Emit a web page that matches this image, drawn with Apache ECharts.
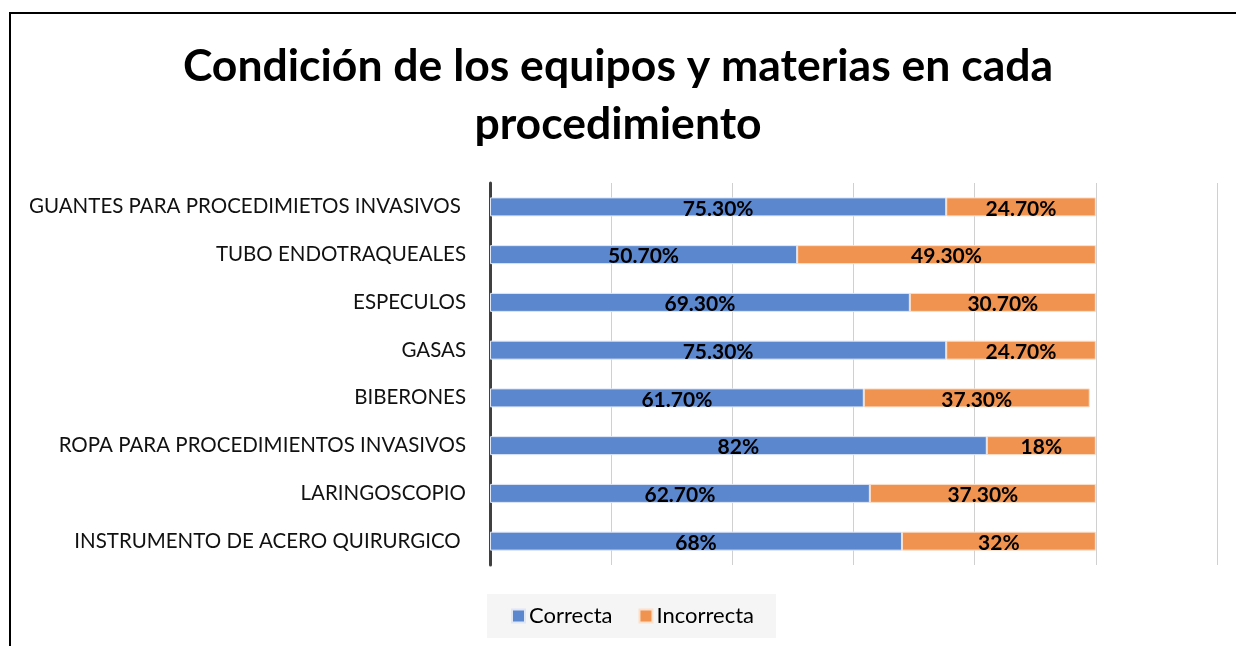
<!DOCTYPE html>
<html>
<head>
<meta charset="utf-8">
<script src="https://cdn.jsdelivr.net/npm/echarts@6/dist/echarts.min.js"></script>
<style>html,body{margin:0;padding:0;background:#fff;}#c{width:1236px;height:646px;}</style>
</head>
<body>
<div id="c"></div>
<script>
const categories = [
  'GUANTES PARA PROCEDIMIETOS INVASIVOS ',
  'TUBO ENDOTRAQUEALES',
  'ESPECULOS',
  'GASAS',
  'BIBERONES',
  'ROPA PARA PROCEDIMIENTOS INVASIVOS',
  'LARINGOSCOPIO',
  'INSTRUMENTO DE ACERO QUIRURGICO '
];
const correcta = [75.3, 50.7, 69.3, 75.3, 61.7, 82, 62.7, 68];
const incorrecta = [24.7, 49.3, 30.7, 24.7, 37.3, 18, 37.3, 32];
const seriesNames = ['Correcta', 'Incorrecta'];
const titleText = 'Condición de los equipos y materias en cada\nprocedimiento';

const fmt = p => (Number.isInteger(p.value) ? p.value : p.value.toFixed(2)) + '%';
const FONT = 'Lato';

const chart = echarts.init(document.getElementById('c'), null, {renderer: 'canvas'});
const labelStyle = {show: true, position: 'inside', formatter: fmt, color: '#000', fontWeight: 'bold', fontSize: 21, fontFamily: FONT, offset: [0, 2]};
chart.setOption({
  animation: false,
  backgroundColor: '#fff',
  title: {
    text: titleText,
    left: 'center',
    top: 33,
    textStyle: {fontFamily: FONT, fontWeight: 'bold', fontSize: 44.5, color: '#000', lineHeight: 58}
  },
  graphic: [{
    type: 'rect', shape: {x: 10, y: 13, width: 1300, height: 700},
    style: {fill: 'none', stroke: '#000', lineWidth: 2}, silent: true
  }],
  legend: {
    data: seriesNames,
    left: 487, top: 594,
    backgroundColor: '#f5f5f5',
    padding: [11, 22, 11, 24],
    itemWidth: 13, itemHeight: 13, itemGap: 26,
    icon: 'rect',
    textStyle: {fontFamily: FONT, fontSize: 22, color: '#000', padding: [0, 0, 0, -1]}
  },
  grid: {left: 490, right: 19, top: 183, bottom: 81, containLabel: false},
  xAxis: {
    type: 'value', min: 0, max: 120, interval: 20,
    axisLabel: {show: false}, axisTick: {show: false}, axisLine: {show: false},
    splitLine: {show: true, lineStyle: {color: '#d0d0d0', width: 1}}
  },
  yAxis: {
    type: 'category', data: categories, inverse: true,
    axisTick: {show: false},
    axisLine: {show: true, lineStyle: {color: '#404040', width: 3}},
    axisLabel: {fontFamily: FONT, fontSize: 20.5, color: '#111', margin: 24}
  },
  series: [
    {name: seriesNames[0], type: 'bar', stack: 't', data: correcta, barWidth: 19,
     itemStyle: {color: '#5b87cf', borderColor: '#dfe6f5', borderWidth: 1}, label: labelStyle},
    {name: seriesNames[1], type: 'bar', stack: 't', data: incorrecta, barWidth: 19,
     itemStyle: {color: '#f09350', borderColor: '#fbe0cc', borderWidth: 1}, label: labelStyle}
  ]
});
</script>
</body>
</html>
